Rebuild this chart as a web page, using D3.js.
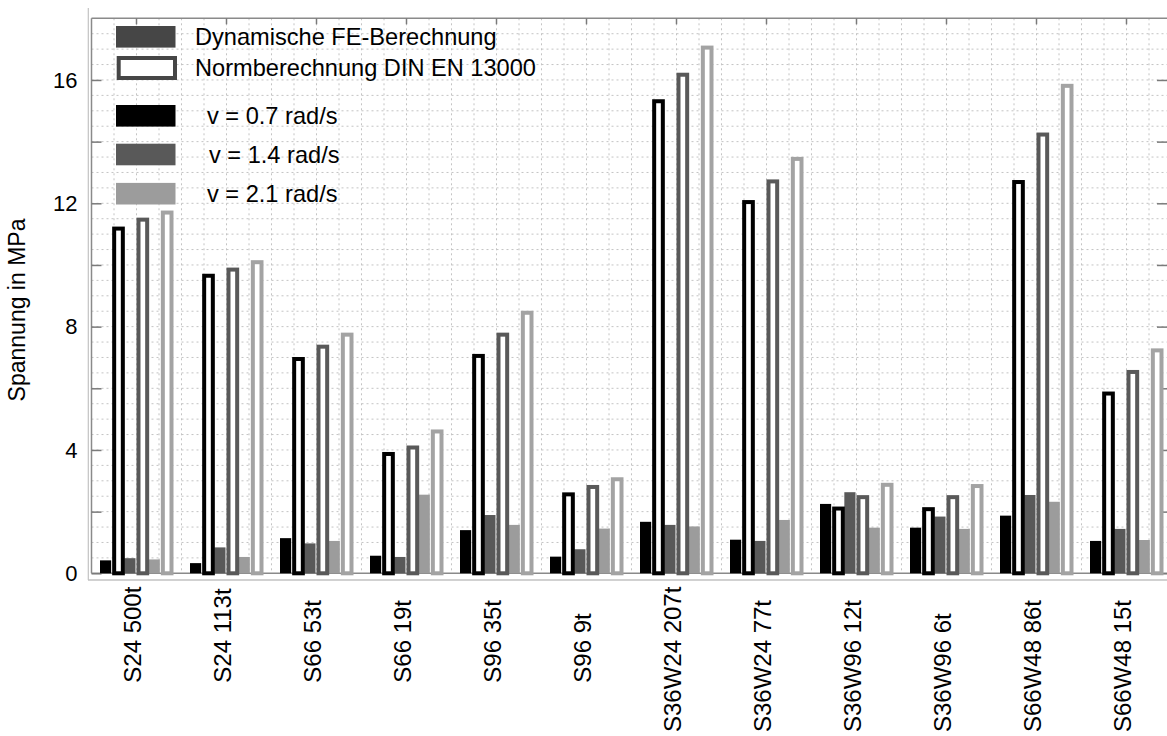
<!DOCTYPE html>
<html><head><meta charset="utf-8">
<script src="https://cdn.jsdelivr.net/npm/d3@7"></script>
<style>
body{margin:0;background:#fff}
svg{display:block}
text{font-family:"Liberation Sans",Arial,sans-serif;fill:#000}
</style>
</head><body>
<svg id="chart" width="1167" height="736"></svg>
<script>
// ---- data ----
const categories = ["S24 500t","S24 113t","S66 53t","S66 19t","S96 35t","S96 9t",
  "S36W24 207t","S36W24 77t","S36W96 12t","S36W96 6t","S66W48 86t","S66W48 15t"];
// Dynamische FE-Berechnung
const dyn_v07 = [0.42,0.33,1.14,0.57,1.40,0.54,1.67,1.09,2.25,1.48,1.87,1.05];
const dyn_v14 = [0.49,0.84,0.97,0.53,1.89,0.78,1.57,1.05,2.63,1.84,2.54,1.44];
const dyn_v21 = [0.45,0.53,1.05,2.55,1.57,1.45,1.52,1.73,1.48,1.44,2.32,1.08];
// Normberechnung DIN EN 13000
const norm_v07 = [11.18,9.65,6.95,3.87,7.05,2.56,15.31,12.04,2.10,2.08,12.69,5.83];
const norm_v14 = [11.47,9.85,7.35,4.08,7.74,2.80,16.17,12.71,2.47,2.47,14.23,6.53];
const norm_v21 = [11.70,10.09,7.74,4.60,8.45,3.05,17.05,13.44,2.87,2.83,15.81,7.23];
const yTickLabels = [0,4,8,12,16];
const yMinorTicks = [0,2,4,6,8,10,12,14,16];
const legendLabels = ["Dynamische FE-Berechnung","Normberechnung DIN EN 13000",
  "v = 0.7 rad/s","v = 1.4 rad/s","v = 2.1 rad/s"];
const yTitle = "Spannung in MPa";

// ---- layout ----
const svg = d3.select("#chart");
const L = 91.5, R = 1171.5, T = 18.3, B = 573.3;
const x = d3.scaleBand().domain(categories).range([L, R]);
const y = d3.scaleLinear().domain([0, 18]).range([B, T]);
const seriesKeys = ["d07","n07","d14","n14","d21","n21"];
const groupW = 73;
const sub = d3.scaleBand().domain(seriesKeys).range([0, groupW]);
const colors = {v07:"#000000", v14:"#595959", v21:"#9c9c9c"};
const strokeCol = {v07:"#000000", v14:"#595959", v21:"#a3a3a3"};

const rows = [];
categories.forEach((c,i)=>{
  rows.push({c, key:"d07", v:dyn_v07[i], sp:"v07", filled:true});
  rows.push({c, key:"n07", v:norm_v07[i], sp:"v07", filled:false});
  rows.push({c, key:"d14", v:dyn_v14[i], sp:"v14", filled:true});
  rows.push({c, key:"n14", v:norm_v14[i], sp:"v14", filled:false});
  rows.push({c, key:"d21", v:dyn_v21[i], sp:"v21", filled:true});
  rows.push({c, key:"n21", v:norm_v21[i], sp:"v21", filled:false});
});

// ---- grid ----
const grid = svg.append("g");
d3.range(0.5, 18, 0.5).forEach(v=>{
  grid.append("line").attr("x1",L).attr("x2",1167).attr("y1",y(v)).attr("y2",y(v))
    .attr("stroke","#c4c4c4").attr("stroke-width",1).attr("stroke-dasharray","2,3");
});
categories.forEach(c=>{
  [0,0.25,0.5,0.75].forEach(q=>{
    const gx = x(c) + x.bandwidth()*q;
    if (gx <= L + 1) return;
    grid.append("line").attr("x1",gx).attr("x2",gx).attr("y1",T).attr("y2",B)
      .attr("stroke","#c4c4c4").attr("stroke-width",1).attr("stroke-dasharray","2,3");
  });
});

// ---- frame lines ----
svg.append("line").attr("x1",88.3).attr("x2",88.3).attr("y1",8).attr("y2",580)
  .attr("stroke","#c2c2c2").attr("stroke-width",1.2);
svg.append("line").attr("x1",88).attr("x2",1167).attr("y1",580).attr("y2",580)
  .attr("stroke","#c2c2c2").attr("stroke-width",1.5);
svg.append("line").attr("x1",L).attr("x2",L).attr("y1",T).attr("y2",B)
  .attr("stroke","#8a8a8a").attr("stroke-width",1.5);
svg.append("line").attr("x1",L).attr("x2",1167).attr("y1",T).attr("y2",T)
  .attr("stroke","#8a8a8a").attr("stroke-width",1.5);
svg.append("line").attr("x1",L).attr("x2",1167).attr("y1",B).attr("y2",B)
  .attr("stroke","#8a8a8a").attr("stroke-width",1.5);

// ---- axes ----
const yAxis = svg.append("g").attr("transform",`translate(${L},0)`)
  .call(d3.axisLeft(y).tickValues(yMinorTicks).tickSizeInner(-10).tickSizeOuter(0).tickPadding(14)
    .tickFormat(d => yTickLabels.includes(d) ? d : ""));
yAxis.select(".domain").remove();
yAxis.selectAll(".tick line").attr("stroke","#7a7a7a").attr("stroke-width",1.5);
yAxis.selectAll(".tick text").attr("font-size",22).attr("font-family","Liberation Sans, Arial, sans-serif").attr("fill","#000");

const yAxisR = svg.append("g").attr("transform",`translate(1167,0)`)
  .call(d3.axisRight(y).tickValues(yMinorTicks).tickSizeInner(-10).tickSizeOuter(0).tickFormat(""));
yAxisR.select(".domain").remove();
yAxisR.selectAll(".tick line").attr("stroke","#7a7a7a").attr("stroke-width",1.5);

const xTop = svg.append("g").attr("transform",`translate(0,${T})`)
  .call(d3.axisTop(x).tickSizeInner(-6).tickSizeOuter(0).tickFormat(""));
xTop.select(".domain").remove();
xTop.selectAll(".tick line").attr("stroke","#7a7a7a").attr("stroke-width",1.5);

// ---- bars ----
const inset = (x.bandwidth() - groupW)/2;
const s = sub.bandwidth();
const bars = svg.append("g");
bars.selectAll("rect.f").data(rows.filter(r=>r.filled)).join("rect")
  .attr("x", d => x(d.c) + inset + sub(d.key))
  .attr("width", s - 1)
  .attr("y", d => y(d.v))
  .attr("height", d => y(0) - y(d.v))
  .attr("fill", d => colors[d.sp]);
bars.selectAll("rect.o").data(rows.filter(r=>!r.filled)).join("rect")
  .attr("x", d => x(d.c) + inset + sub(d.key) + 2)
  .attr("width", s - 3.5)
  .attr("y", d => y(d.v))
  .attr("height", d => y(0) - y(d.v))
  .attr("fill", "#fff")
  .attr("stroke", d => strokeCol[d.sp])
  .attr("stroke-width", 4);

// ---- x labels ----
const splitY = 640;
svg.append("g").selectAll("text").data(categories).join("text")
  .attr("transform", c => `translate(${x(c) + x.bandwidth()/2 + 4},${splitY}) rotate(-90)`)
  .attr("font-size", 24)
  .attr("text-anchor","start")
  .text(c => c)
  .each(function(c){
    const idx = c.indexOf(" ");
    const w = this.getSubStringLength(0, idx);
    d3.select(this).attr("x", -w);
  });

// ---- y title ----
svg.append("text").attr("transform","translate(25,310) rotate(-90)")
  .attr("text-anchor","middle").attr("font-size",23).text(yTitle);

// ---- legend ----
const lg = svg.append("g");
const legendRows = [
  {label:legendLabels[0], cy:36.8, fill:"#464646", stroke:null, tx:195},
  {label:legendLabels[1], cy:68, fill:"#fff", stroke:"#464646", tx:195},
  {label:legendLabels[2], cy:115.8, fill:colors.v07, stroke:null, tx:207},
  {label:legendLabels[3], cy:154.5, fill:colors.v14, stroke:null, tx:209},
  {label:legendLabels[4], cy:193.7, fill:colors.v21, stroke:null, tx:207}
];
legendRows.forEach(r=>{
  if (r.stroke) {
    lg.append("rect").attr("x",118.7).attr("y",r.cy-10).attr("width",56.3).attr("height",20)
      .attr("fill",r.fill).attr("stroke",r.stroke).attr("stroke-width",4);
  } else {
    lg.append("rect").attr("x",116).attr("y",r.cy-10.8).attr("width",59.5).attr("height",21.6)
      .attr("fill",r.fill);
  }
  lg.append("text").attr("x",r.tx).attr("y",r.cy+8).attr("font-size",23.6).text(r.label);
});
</script>
</body></html>
